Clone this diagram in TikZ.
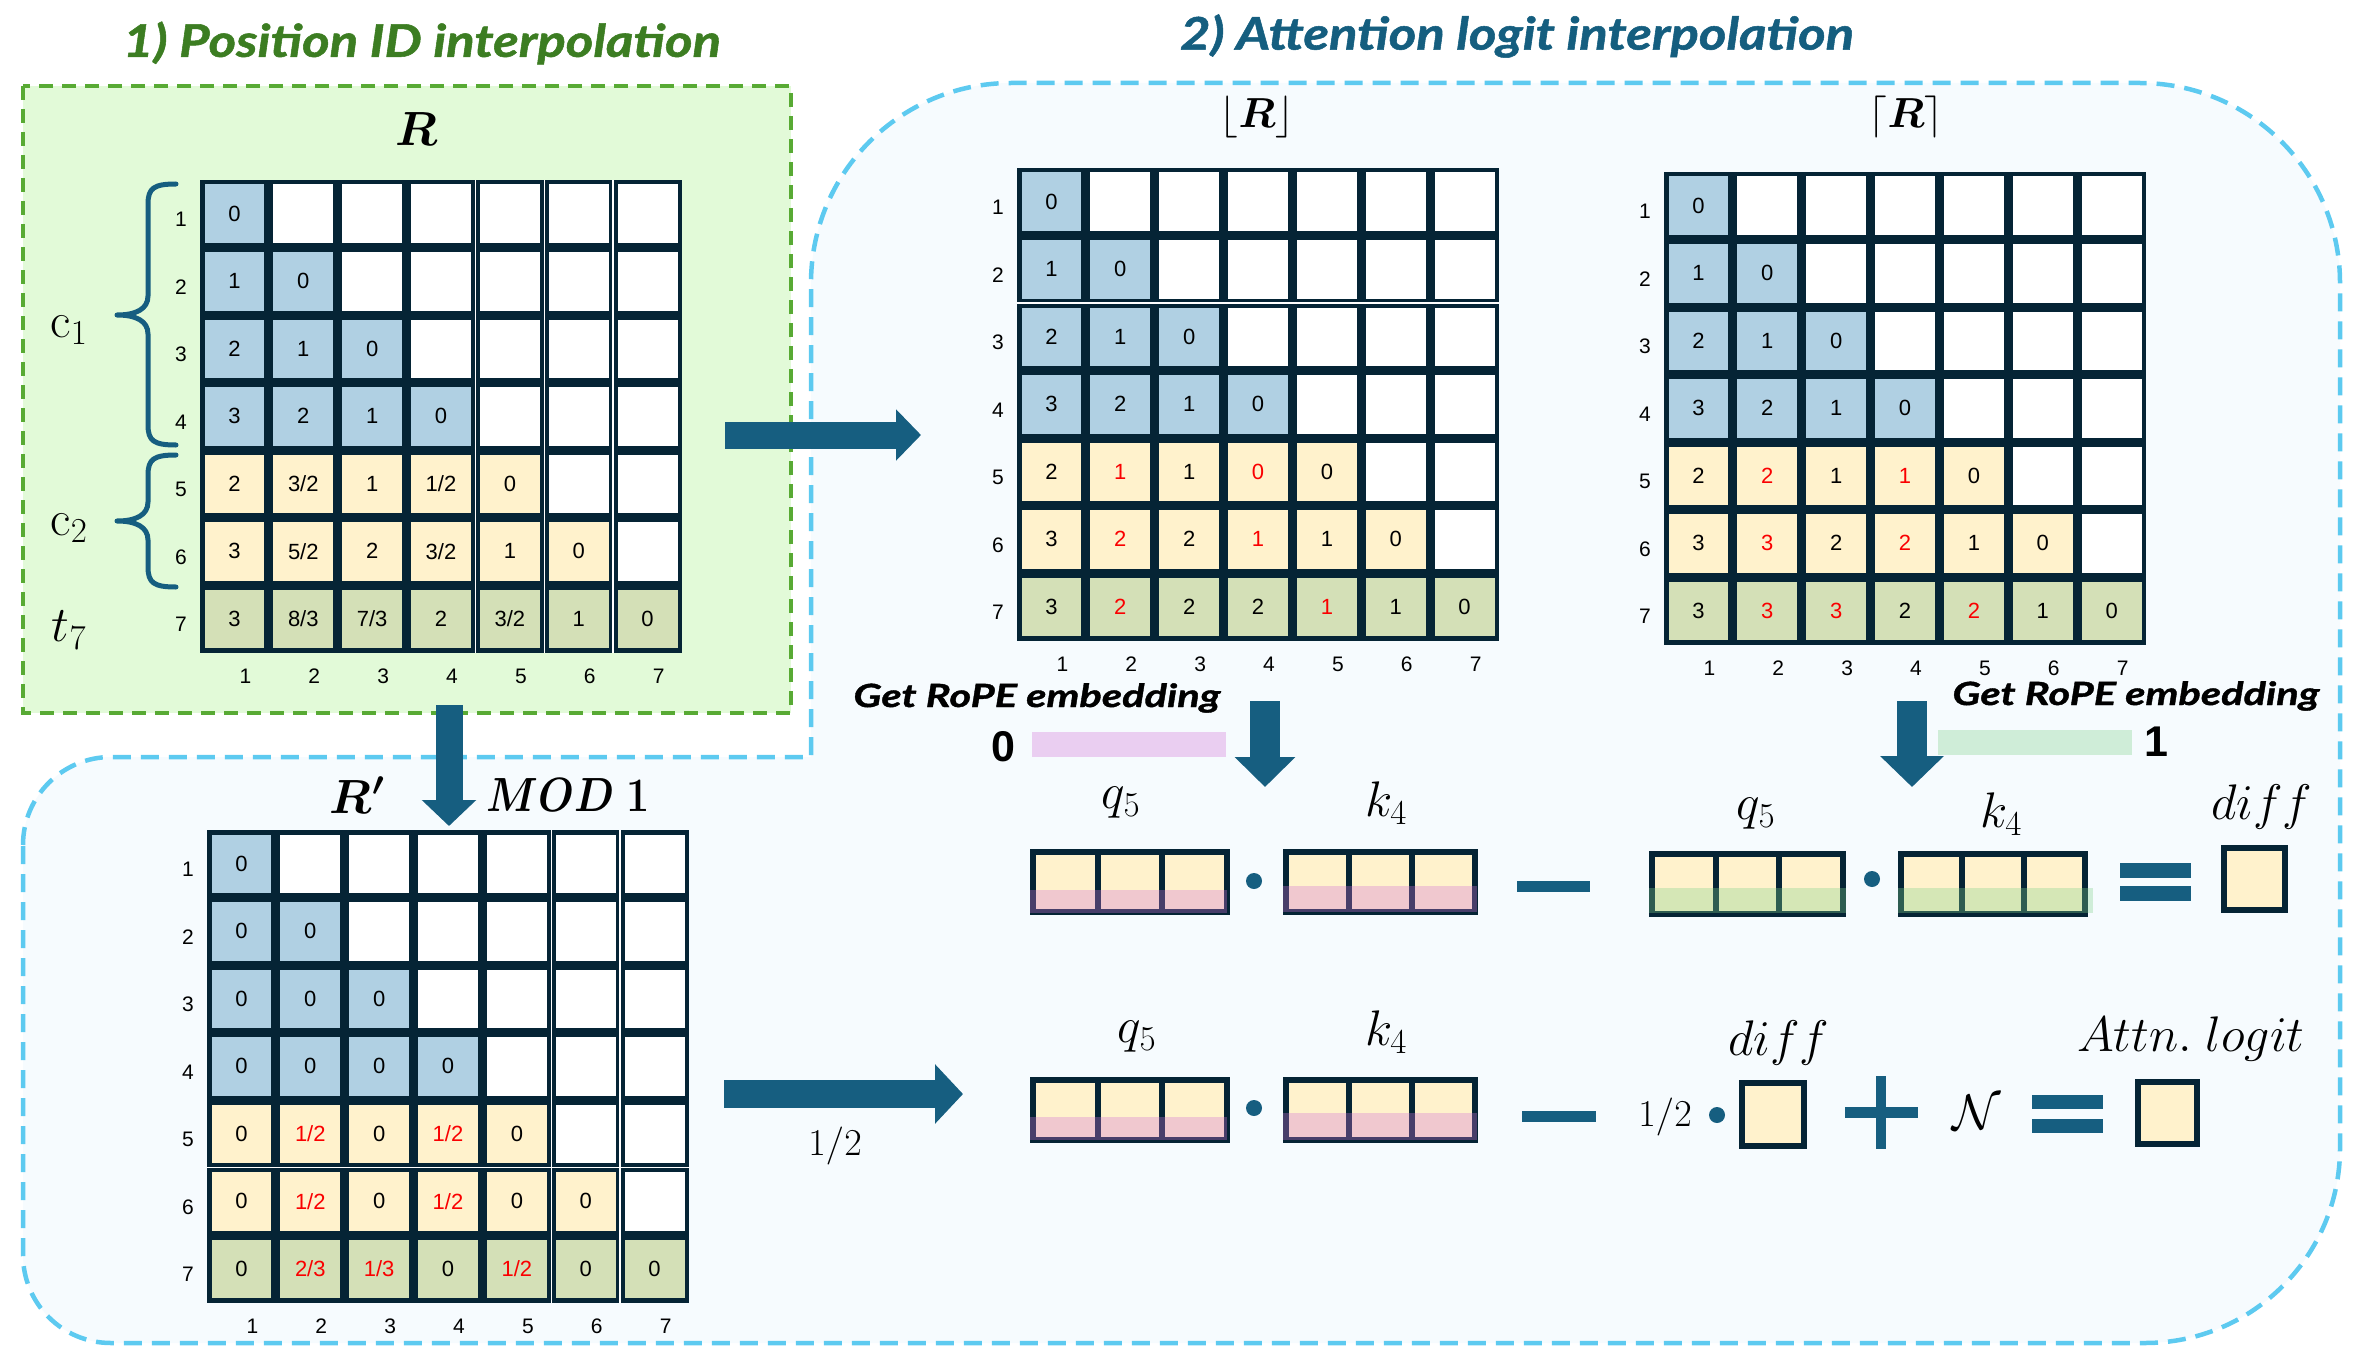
\RequirePackage{fix-cm}
\documentclass[tikz,border=0pt]{standalone}
\usepackage{amsmath,bm,graphicx}
\usepackage[no-math]{fontspec}
\newfontfamily\cellfont{Liberation Sans}
\newfontfamily\titlefont[FakeStretch=1.17,FakeBold=1.2]{Lato}
\newfontfamily\ropefont[FakeStretch=1.3,FakeBold=1.2]{Lato}
\usetikzlibrary{arrows.meta}
\definecolor{cdark}{RGB}{5,36,53}
\definecolor{cblue}{RGB}{176,208,227}
\definecolor{cyel}{RGB}{255,242,204}
\definecolor{cgrn}{RGB}{212,224,183}
\definecolor{carrow}{RGB}{22,94,128}
\definecolor{ctitleA}{RGB}{60,125,34}
\definecolor{ctitleB}{RGB}{21,94,127}
\definecolor{cgbox}{RGB}{226,250,216}
\definecolor{cgdash}{RGB}{88,170,52}
\definecolor{cbbox}{RGB}{246,251,254}
\definecolor{cbdash}{RGB}{93,202,240}
\definecolor{cred}{RGB}{250,0,0}
\definecolor{cpinkov}{RGB}{210,116,216}
\definecolor{cgreenov}{RGB}{130,210,140}
\newcommand\fr[2]{#1/#2}
% matrix: name, x0, y0, entries r/c/text/colour
\newcommand\mtx[4]{%
  \fill[cdark] (#2,#3) rectangle ++(482,472.5);
  \foreach \mr in {1,...,7}{\foreach \mc in {1,...,7}{%
    \ifnum\mc>\mr
      \node[cell,fill=white] (#1-\mr-\mc) at ({#2+68.86*(\mc-0.5)},{#3+67.5*(\mr-0.5)}) {};
    \fi}}
  \foreach \mr/\mc/\mt/\mk in {#4}{%
    \ifnum\mr<5 \def\cf{cblue}\else\ifnum\mr<7 \def\cf{cyel}\else\def\cf{cgrn}\fi\fi
    \node[cell,fill=\cf,text=\mk] (#1-\mr-\mc) at ({#2+68.86*(\mc-0.5)},{#3+67.5*(\mr-0.5)}) {\mt};}
  \foreach \mi in {1,...,7}{%
    \node[lbl] (#1-row\mi) at ({#2-19},{#3+67.5*(\mi-0.5)+6}) {\mi};
    \node[lbl] (#1-col\mi) at ({#2+68.86*(\mi-0.5)+11},{#3+496}) {\mi};}
}
% vector: name, x0, y0 (outer top-left), outer width
\newcommand\vecbox[4]{%
  \foreach \vi in {1,2,3}{%
    \node[vcell,minimum width={(#4-6)/3}] (#1-\vi) at ({#2+3+(#4-6)/3*(\vi-0.5)},{#3+33}) {};}}
\begin{document}
\begin{tikzpicture}[x=1pt,y=-1pt,
  cell/.style={rectangle,inner sep=0pt,minimum width=59.86pt,minimum height=58.5pt,font=\cellfont\fontsize{22}{24}\selectfont},
  lbl/.style={inner sep=0pt,font=\cellfont\fontsize{21}{24}\selectfont},
  vcell/.style={rectangle,draw=cdark,line width=6pt,fill=cyel,minimum height=60pt,inner sep=0pt},
  sbox/.style={rectangle,draw=cdark,line width=6pt,fill=cyel,inner sep=0pt},
  mlabel/.style={inner sep=0pt,font=\fontsize{50}{54}\selectfont},
  rope/.style={inner sep=0pt,font=\ropefont\bfseries\itshape\fontsize{32}{36}\selectfont},
  bigdigit/.style={inner sep=0pt,font=\cellfont\bfseries\fontsize{43}{46}\selectfont},
  blockarrow/.style n args={3}{draw=carrow,line width=#1,-{Triangle[width=#2,length=#3]}},
  sepline/.style={draw=white,line width=1.5pt},
  bracestyle/.style={draw=carrow,line width=5pt,line cap=round,line join=round}]
\useasboundingbox (0,0) rectangle (2360,1359);
% ---------- section frames ----------
\draw[fill=cbbox,draw=cbdash,line width=4.5pt,dash pattern=on 18pt off 10pt]
  (23,845) arc[start angle=180,end angle=90,radius=88pt] -- (811,757) -- (811,283)
  arc[start angle=180,end angle=90,radius=200pt] -- (2140,83)
  arc[start angle=90,end angle=0,radius=200pt] -- (2340,1148)
  arc[start angle=0,end angle=-90,radius=195pt] -- (111,1343)
  arc[start angle=-90,end angle=-180,radius=88pt] -- cycle;
\draw[fill=cgbox,draw=cgdash,line width=4pt,dash pattern=on 14pt off 9pt] (23,86) rectangle (791,713);
% ---------- titles ----------
\node[inner sep=0pt,font=\titlefont\bfseries\itshape\fontsize{45}{50}\selectfont,text=ctitleA] (title1) at (422,43) {1) Position ID interpolation};
\node[inner sep=0pt,font=\titlefont\bfseries\itshape\fontsize{45}{50}\selectfont,text=ctitleB] (title2) at (1517,36) {2) Attention logit interpolation};
% ---------- matrix R ----------
\node[mlabel] (labR) at (417,129) {\fontsize{48}{50}\selectfont$\boldsymbol{R}$};
\mtx{mR}{200}{180}{1/1/0/black, 2/1/1/black, 2/2/0/black, 3/1/2/black, 3/2/1/black, 3/3/0/black,
  4/1/3/black, 4/2/2/black, 4/3/1/black, 4/4/0/black,
  5/1/2/black, 5/2/\fr32/black, 5/3/1/black, 5/4/\fr12/black, 5/5/0/black,
  6/1/3/black, 6/2/\fr52/black, 6/3/2/black, 6/4/\fr32/black, 6/5/1/black, 6/6/0/black,
  7/1/3/black, 7/2/\fr83/black, 7/3/\fr73/black, 7/4/2/black, 7/5/\fr32/black, 7/6/1/black, 7/7/0/black}
\foreach \sx in {475.4,544.3,613.2}{\draw[sepline] (\sx,180) -- (\sx,652.5);}
\draw[bracestyle] (176,184) .. controls (154,184) and (148,188) .. (148,204) -- (148,296)
  .. controls (148,309) and (136,315) .. (117,315) .. controls (136,315) and (148,321) .. (148,334)
  -- (148,425) .. controls (148,441) and (154,445) .. (176,445);
\draw[bracestyle] (176,455) .. controls (154,455) and (148,459) .. (148,475) -- (148,502)
  .. controls (148,515) and (136,521) .. (117,521) .. controls (136,521) and (148,527) .. (148,540)
  -- (148,567) .. controls (148,583) and (154,587) .. (176,587);
\node[mlabel] (c1) at (69,330) {$\mathrm{c}_1$};
\node[mlabel] (c2) at (69,528) {$\mathrm{c}_2$};
\node[mlabel] (t7) at (69,630) {$t_7$};
% ---------- floor matrix ----------
\node[mlabel] (labF) at (1257,117) {\fontsize{42}{44}\selectfont$\lfloor\boldsymbol{R}\rfloor$};
\mtx{mF}{1017}{168}{1/1/0/black, 2/1/1/black, 2/2/0/black, 3/1/2/black, 3/2/1/black, 3/3/0/black,
  4/1/3/black, 4/2/2/black, 4/3/1/black, 4/4/0/black,
  5/1/2/black, 5/2/1/cred, 5/3/1/black, 5/4/0/cred, 5/5/0/black,
  6/1/3/black, 6/2/2/cred, 6/3/2/black, 6/4/1/cred, 6/5/1/black, 6/6/0/black,
  7/1/3/black, 7/2/2/cred, 7/3/2/black, 7/4/2/black, 7/5/1/cred, 7/6/1/black, 7/7/0/black}
\draw[sepline] (1017,303) -- (1499,303);
% ---------- ceil matrix ----------
\node[mlabel] (labC) at (1906,117) {\fontsize{42}{44}\selectfont$\lceil\boldsymbol{R}\rceil$};
\mtx{mC}{1664}{172}{1/1/0/black, 2/1/1/black, 2/2/0/black, 3/1/2/black, 3/2/1/black, 3/3/0/black,
  4/1/3/black, 4/2/2/black, 4/3/1/black, 4/4/0/black,
  5/1/2/black, 5/2/2/cred, 5/3/1/black, 5/4/1/cred, 5/5/0/black,
  6/1/3/black, 6/2/3/cred, 6/3/2/black, 6/4/2/cred, 6/5/1/black, 6/6/0/black,
  7/1/3/black, 7/2/3/cred, 7/3/3/cred, 7/4/2/black, 7/5/2/cred, 7/6/1/black, 7/7/0/black}
% ---------- R' matrix ----------
\node[mlabel] (labRp) at (357,795) {\fontsize{48}{50}\selectfont$\boldsymbol{R'}$};
\node[mlabel] (labMod) at (568,795) {\fontsize{48}{50}\selectfont\scalebox{0.86}[1]{$\boldsymbol{MOD}\;\mathbf{1}$}};
\mtx{mP}{207}{830}{1/1/0/black, 2/1/0/black, 2/2/0/black, 3/1/0/black, 3/2/0/black, 3/3/0/black,
  4/1/0/black, 4/2/0/black, 4/3/0/black, 4/4/0/black,
  5/1/0/black, 5/2/\fr12/cred, 5/3/0/black, 5/4/\fr12/cred, 5/5/0/black,
  6/1/0/black, 6/2/\fr12/cred, 6/3/0/black, 6/4/\fr12/cred, 6/5/0/black, 6/6/0/black,
  7/1/0/black, 7/2/\fr23/cred, 7/3/\fr13/cred, 7/4/0/black, 7/5/\fr12/cred, 7/6/0/black, 7/7/0/black}
\foreach \sx in {551.3,620.2}{\draw[sepline] (\sx,830) -- (\sx,1302.5);}
\draw[sepline] (207,1167.5) -- (689,1167.5);
% ---------- big arrows ----------
\coordinate (a1s) at (725,435); \coordinate (a1e) at (921,435);
\coordinate (a2s) at (449,705); \coordinate (a2e) at (449,826);
\coordinate (a3s) at (724,1094); \coordinate (a3e) at (963,1094);
\coordinate (a4s) at (1265,701); \coordinate (a4e) at (1265,787);
\coordinate (a5s) at (1912,701); \coordinate (a5e) at (1912,787);
\draw[blockarrow={27pt}{50pt}{25pt}] (a1s) -- (a1e);
\draw[blockarrow={27pt}{53pt}{26pt}] (a2s) -- (a2e);
\draw[blockarrow={28pt}{58pt}{28pt}] (a3s) -- (a3e);
\draw[blockarrow={30pt}{59pt}{30pt}] (a4s) -- (a4e);
\draw[blockarrow={30pt}{62pt}{31pt}] (a5s) -- (a5e);
\node[inner sep=0pt,font=\fontsize{38}{40}\selectfont] (half1) at (835,1146) {$1/2$};
% ---------- RoPE embedding ----------
\node[rope] (ropeL) at (1037,698) {Get RoPE embedding};
\node[rope] (ropeR) at (2136,696) {Get RoPE embedding};
\node[bigdigit] (zero) at (1003,747) {0};
\node[bigdigit] (one) at (2156,742) {1};
\fill[cpinkov,opacity=0.33] (1032,732) rectangle (1226,757);
\fill[cgreenov,opacity=0.33] (1938,730) rectangle (2132,755);
% ---------- row 1 : floor ----------
\node[mlabel] (q1) at (1121,803) {$q_5$};
\node[mlabel] (k1) at (1386,803) {$k_4$};
\vecbox{vq1}{1030}{849}{200}
\vecbox{vk1}{1283}{849}{195}
\fill[cpinkov,opacity=0.33] (1030,890) rectangle (1227,913);
\fill[cpinkov,opacity=0.33] (1283,886) rectangle (1477,912);
\fill[carrow] (1254,881) circle[radius=8pt];
\fill[carrow] (1517,881) rectangle (1590,892);
% ---------- row 1 : ceil ----------
\node[mlabel] (q2) at (1756,814) {$q_5$};
\node[mlabel] (k2) at (2001,814) {$k_4$};
\node[mlabel] (d1) at (2262,807) {$diff$};
\vecbox{vq2}{1649}{851}{197}
\vecbox{vk2}{1898}{851}{190}
\fill[cgreenov,opacity=0.33] (1649,888) rectangle (1846,913);
\fill[cgreenov,opacity=0.33] (1898,888) rectangle (2093,913);
\fill[carrow] (1872,879) circle[radius=8pt];
\fill[carrow] (2120,863) rectangle (2191,878);
\fill[carrow] (2120,886) rectangle (2191,901);
\node[sbox,minimum width=61pt,minimum height=62pt] (diffbox1) at (2254.5,879) {};
% ---------- row 2 ----------
\node[mlabel] (q3) at (1137,1037) {$q_5$};
\node[mlabel] (k3) at (1386,1032) {$k_4$};
\vecbox{vq3}{1030}{1077}{200}
\vecbox{vk3}{1283}{1077}{195}
\fill[cpinkov,opacity=0.33] (1030,1117) rectangle (1227,1140);
\fill[cpinkov,opacity=0.33] (1283,1113) rectangle (1477,1140);
\fill[carrow] (1254,1108) circle[radius=8pt];
\fill[carrow] (1522,1111) rectangle (1596,1122);
\node[inner sep=0pt,font=\fontsize{38}{40}\selectfont] (half2) at (1665,1117) {$1/2$};
\fill[carrow] (1717,1115) circle[radius=8pt];
\node[mlabel] (d2) at (1779,1043) {$diff$};
\node[sbox,minimum width=62pt,minimum height=63pt] (diffbox2) at (1773,1114.5) {};
\fill[carrow] (1845,1107) rectangle (1918,1118);
\fill[carrow] (1876,1076) rectangle (1886,1149);
\node[mlabel] (nn) at (1977,1112) {$\mathcal{N}$};
\fill[carrow] (2032,1095) rectangle (2103,1109);
\fill[carrow] (2032,1119) rectangle (2103,1133);
\node[mlabel] (attn) at (2191,1039) {$Attn.\;logit$};
\node[sbox,minimum width=59pt,minimum height=62pt] (attnbox) at (2167.5,1113) {};
\end{tikzpicture}
\end{document}
